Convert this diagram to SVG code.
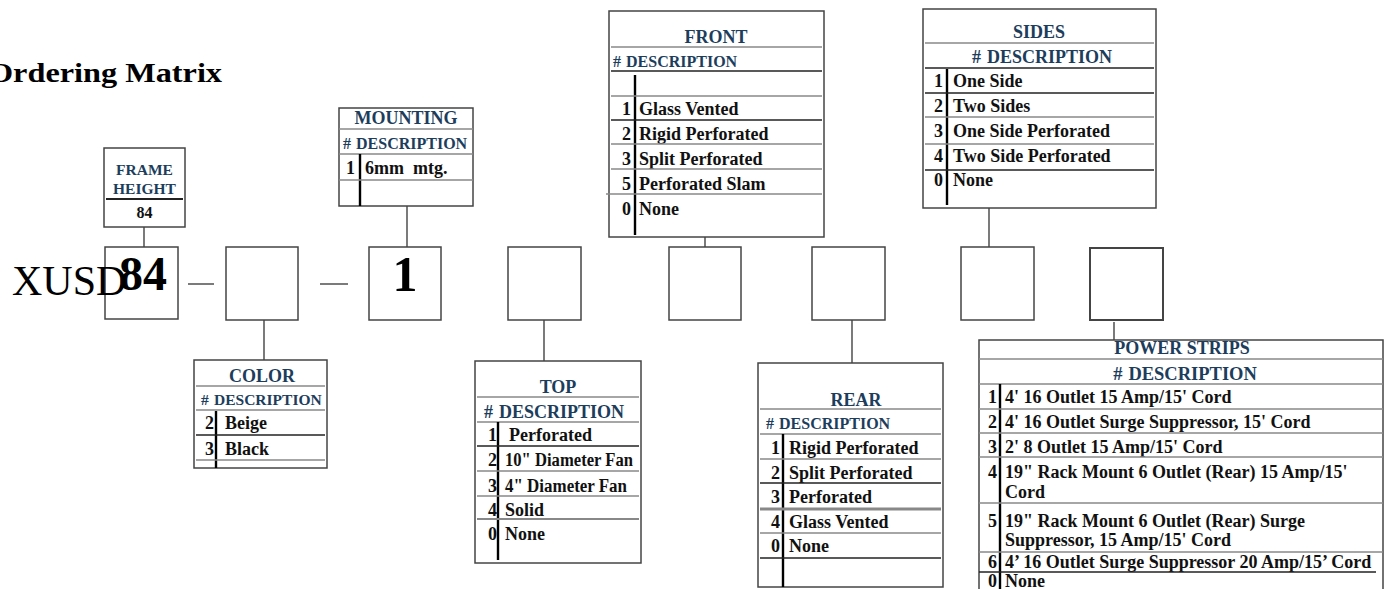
<svg xmlns="http://www.w3.org/2000/svg" width="1390" height="589" viewBox="0 0 1390 589">
<style>
text{font-family:"Liberation Serif","Times New Roman",serif;font-weight:bold}
.hd{fill:#1c3d5c;font-size:18px}
.hs{fill:#1c3d5c;font-size:16px}
.c{text-anchor:middle}
.e{text-anchor:end}
.r{fill:#111;font-size:18px}
.box{fill:#fff;stroke:#444;stroke-width:1.5}
.tb{fill:#fff;stroke:#444;stroke-width:1.5}
.sep{stroke:#888;stroke-width:1.4}
.sk{stroke:#222;stroke-width:1.3}
.dv{stroke:#000;stroke-width:2.4}
.conn{stroke:#333;stroke-width:1.3;fill:none}
</style>
<rect width="1390" height="589" fill="#fff"/>
<text x="-12" y="82" style="font-size:28px;fill:#000" textLength="234" lengthAdjust="spacingAndGlyphs">Ordering Matrix</text>

<g id="connectors">
<line class="conn" x1="144" y1="227" x2="144" y2="247"/>
<line class="conn" x1="407" y1="206" x2="407" y2="247"/>
<line class="conn" x1="705" y1="237" x2="705" y2="247"/>
<line class="conn" x1="989" y1="208" x2="989" y2="247"/>
<line class="conn" x1="264" y1="320" x2="264" y2="360"/>
<line class="conn" x1="544" y1="320" x2="544" y2="361"/>
<line class="conn" x1="852" y1="320" x2="852" y2="363"/>
<line class="conn" x1="1114" y1="322" x2="1114" y2="340"/>
<line class="conn" x1="188" y1="284" x2="214" y2="284"/>
<line class="conn" x1="320" y1="284" x2="348" y2="284"/>
</g>

<g id="part-number">
<rect class="box" x="105" y="247" width="73" height="72"/>
<rect class="box" x="226" y="247" width="72" height="73"/>
<rect class="box" x="369" y="247" width="72" height="73"/>
<rect class="box" x="508" y="247" width="73" height="73"/>
<rect class="box" x="669" y="247" width="72" height="73"/>
<rect class="box" x="812" y="247" width="73" height="73"/>
<rect class="box" x="961" y="247" width="73" height="73"/>
<rect class="box" x="1090" y="248" width="73" height="72" style="stroke-width:2"/>
<text x="12" y="295" style="font-size:42px;font-weight:normal;fill:#000">XUSD</text>
<text class="c" x="143" y="290" style="font-size:48px;fill:#000">84</text>
<text class="c" x="405" y="291" style="font-size:50px;fill:#000">1</text>
</g>

<g id="frame-height">
<rect class="tb" x="104" y="148" width="81" height="79"/>
<text class="c" x="144.5" y="175" style="fill:#1c3d5c;font-size:15.5px">FRAME</text>
<text class="c" x="144.5" y="194" style="fill:#1c3d5c;font-size:15.5px">HEIGHT</text>
<line class="sk" x1="106" y1="199" x2="183" y2="199" style="stroke-width:2"/>
<text class="c" x="144.5" y="218" style="fill:#111;font-size:16px">84</text>
</g>

<g id="mounting">
<rect class="tb" x="339" y="108" width="134" height="98"/>
<text class="hd c" x="406" y="124">MOUNTING</text>
<line class="sep" x1="339" y1="129" x2="473" y2="129"/>
<text class="hs" x="343" y="149">#<tspan x="356">DESCRIPTION</tspan></text>
<line class="sep" x1="339" y1="154" x2="473" y2="154"/>
<line class="dv" x1="360" y1="154" x2="360" y2="206"/>
<text class="r e" x="355" y="174">1</text>
<text class="r" x="365" y="174" xml:space="preserve">6mm  mtg.</text>
<line class="sep" x1="339" y1="180" x2="473" y2="180"/>
</g>

<g id="front">
<rect class="tb" x="609" y="11" width="215" height="226"/>
<text class="hd c" x="716" y="43">FRONT</text>
<line class="sep" x1="611" y1="47" x2="822" y2="47"/>
<text class="hs" x="613" y="67">#<tspan x="626">DESCRIPTION</tspan></text>
<line class="sk" x1="611" y1="71" x2="822" y2="71"/>
<line class="dv" x1="635" y1="75" x2="635" y2="235"/>
<line class="sep" x1="611" y1="96" x2="822" y2="96"/>
<text class="r e" x="631" y="115">1</text><text class="r" x="639" y="115">Glass Vented</text>
<line class="sk" x1="611" y1="120" x2="822" y2="120"/>
<text class="r e" x="631" y="140">2</text><text class="r" x="639" y="140">Rigid Perforated</text>
<line class="sep" x1="611" y1="144" x2="822" y2="144"/>
<text class="r e" x="631" y="165">3</text><text class="r" x="639" y="165">Split Perforated</text>
<line class="sep" x1="611" y1="169" x2="822" y2="169"/>
<text class="r e" x="631" y="190">5</text><text class="r" x="639" y="190">Perforated Slam</text>
<line class="sep" x1="606" y1="194" x2="822" y2="194"/>
<text class="r e" x="631" y="215">0</text><text class="r" x="639" y="215">None</text>
</g>

<g id="sides">
<rect class="tb" x="923" y="9" width="233" height="199"/>
<text class="hd c" x="1039" y="38">SIDES</text>
<line class="sep" x1="925" y1="43" x2="1154" y2="43"/>
<text class="hd c" x="1042" y="63">#<tspan dx="6">DESCRIPTION</tspan></text>
<line class="sk" x1="925" y1="68" x2="1154" y2="68"/>
<line class="dv" x1="947" y1="69" x2="947" y2="205"/>
<text class="r e" x="943" y="87">1</text><text class="r" x="953" y="87">One Side</text>
<line class="sk" x1="925" y1="93" x2="1154" y2="93"/>
<text class="r e" x="943" y="112">2</text><text class="r" x="953" y="112">Two Sides</text>
<line class="sep" x1="925" y1="117" x2="1154" y2="117"/>
<text class="r e" x="943" y="137">3</text><text class="r" x="953" y="137">One Side Perforated</text>
<line class="sep" x1="925" y1="144" x2="1154" y2="144"/>
<text class="r e" x="943" y="162">4</text><text class="r" x="953" y="162">Two Side Perforated</text>
<line class="sk" x1="925" y1="170" x2="1154" y2="170"/>
<text class="r e" x="943" y="186">0</text><text class="r" x="953" y="186">None</text>
</g>

<g id="color">
<rect class="tb" x="194" y="360" width="133" height="108"/>
<text class="hd c" x="262" y="382">COLOR</text>
<line class="sep" x1="196" y1="386" x2="325" y2="386"/>
<text class="hs" x="201" y="405" style="font-size:15.5px">#<tspan x="214">DESCRIPTION</tspan></text>
<line class="sep" x1="196" y1="410" x2="325" y2="410"/>
<line class="dv" x1="216" y1="411" x2="216" y2="468"/>
<text class="r e" x="214" y="429">2</text><text class="r" x="225" y="429">Beige</text>
<line class="sk" x1="196" y1="435" x2="325" y2="435"/>
<text class="r e" x="214" y="455">3</text><text class="r" x="225" y="455">Black</text>
<line class="sep" x1="196" y1="460" x2="325" y2="460"/>
</g>

<g id="top">
<rect class="tb" x="475" y="361" width="166" height="202"/>
<text class="hd c" x="558" y="393">TOP</text>
<line class="sep" x1="477" y1="397" x2="639" y2="397"/>
<text class="hd" x="484" y="418">#<tspan dx="6">DESCRIPTION</tspan></text>
<line class="sep" x1="477" y1="422" x2="639" y2="422"/>
<line class="dv" x1="498" y1="422" x2="498" y2="560"/>
<text class="r e" x="497" y="441">1</text><text class="r" x="509" y="441">Perforated</text>
<line class="sk" x1="477" y1="446" x2="639" y2="446"/>
<text class="r e" x="497" y="466">2</text><text class="r" x="505" y="466" textLength="128" lengthAdjust="spacingAndGlyphs">10" Diameter Fan</text>
<line class="sep" x1="477" y1="471" x2="639" y2="471"/>
<text class="r e" x="497" y="492">3</text><text class="r" x="505" y="492" textLength="122" lengthAdjust="spacingAndGlyphs">4" Diameter Fan</text>
<line class="sep" x1="477" y1="496" x2="639" y2="496"/>
<text class="r e" x="497" y="516">4</text><text class="r" x="505" y="516">Solid</text>
<line class="sep" x1="477" y1="519" x2="639" y2="519" style="stroke-width:2"/>
<text class="r e" x="497" y="540">0</text><text class="r" x="505" y="540">None</text>
</g>

<g id="rear">
<rect class="tb" x="758" y="363" width="185" height="224"/>
<text class="hd c" x="856" y="406">REAR</text>
<line class="sep" x1="760" y1="409" x2="941" y2="409"/>
<text class="hs" x="766" y="429">#<tspan x="779">DESCRIPTION</tspan></text>
<line class="sep" x1="760" y1="434" x2="941" y2="434"/>
<line class="dv" x1="783" y1="434" x2="783" y2="587"/>
<text class="r e" x="780" y="454">1</text><text class="r" x="789" y="454">Rigid Perforated</text>
<line class="sep" x1="760" y1="459" x2="941" y2="459"/>
<text class="r e" x="780" y="479">2</text><text class="r" x="789" y="479">Split Perforated</text>
<line class="sk" x1="760" y1="483" x2="941" y2="483"/>
<text class="r e" x="780" y="503">3</text><text class="r" x="789" y="503">Perforated</text>
<line class="sep" x1="760" y1="509" x2="941" y2="509" style="stroke-width:3"/>
<text class="r e" x="780" y="528">4</text><text class="r" x="789" y="528">Glass Vented</text>
<line class="sep" x1="760" y1="533" x2="941" y2="533"/>
<text class="r e" x="780" y="552">0</text><text class="r" x="789" y="552">None</text>
<line class="sk" x1="760" y1="558" x2="941" y2="558"/>
</g>

<g id="power-strips">
<path class="tb" d="M979,600 V340 H1383 V600"/>
<text class="hd c" x="1182" y="354">POWER STRIPS</text>
<line class="sep" x1="979" y1="359" x2="1383" y2="359"/>
<text class="hd c" x="1185" y="380" style="font-size:18.5px">#<tspan dx="6">DESCRIPTION</tspan></text>
<line class="sep" x1="979" y1="384" x2="1383" y2="384"/>
<line class="dv" x1="1000" y1="384" x2="1000" y2="589"/>
<text class="r e" x="997" y="403">1</text><text class="r" x="1005" y="403">4' 16 Outlet 15 Amp/15' Cord</text>
<line class="sep" x1="979" y1="409" x2="1383" y2="409"/>
<text class="r e" x="997" y="428">2</text><text class="r" x="1005" y="428">4' 16 Outlet Surge Suppressor, 15' Cord</text>
<line class="sep" x1="979" y1="433" x2="1383" y2="433"/>
<text class="r e" x="997" y="453">3</text><text class="r" x="1005" y="453">2' 8 Outlet 15 Amp/15' Cord</text>
<line class="sep" x1="979" y1="457" x2="1383" y2="457"/>
<text class="r e" x="997" y="478">4</text><text class="r" x="1005" y="478">19" Rack Mount 6 Outlet (Rear) 15 Amp/15'</text>
<text class="r" x="1005" y="498">Cord</text>
<line class="sep" x1="979" y1="503" x2="1383" y2="503"/>
<text class="r e" x="997" y="527">5</text><text class="r" x="1005" y="527">19" Rack Mount 6 Outlet (Rear) Surge</text>
<text class="r" x="1005" y="546">Suppressor, 15 Amp/15' Cord</text>
<line class="sep" x1="979" y1="552" x2="1383" y2="552"/>
<text class="r e" x="997" y="568">6</text><text class="r" x="1005" y="568">4’ 16 Outlet Surge Suppressor 20 Amp/15’ Cord</text>
<line class="sk" x1="979" y1="572" x2="1376" y2="572"/>
<text class="r e" x="997" y="587">0</text><text class="r" x="1005" y="587">None</text>
</g>
</svg>
